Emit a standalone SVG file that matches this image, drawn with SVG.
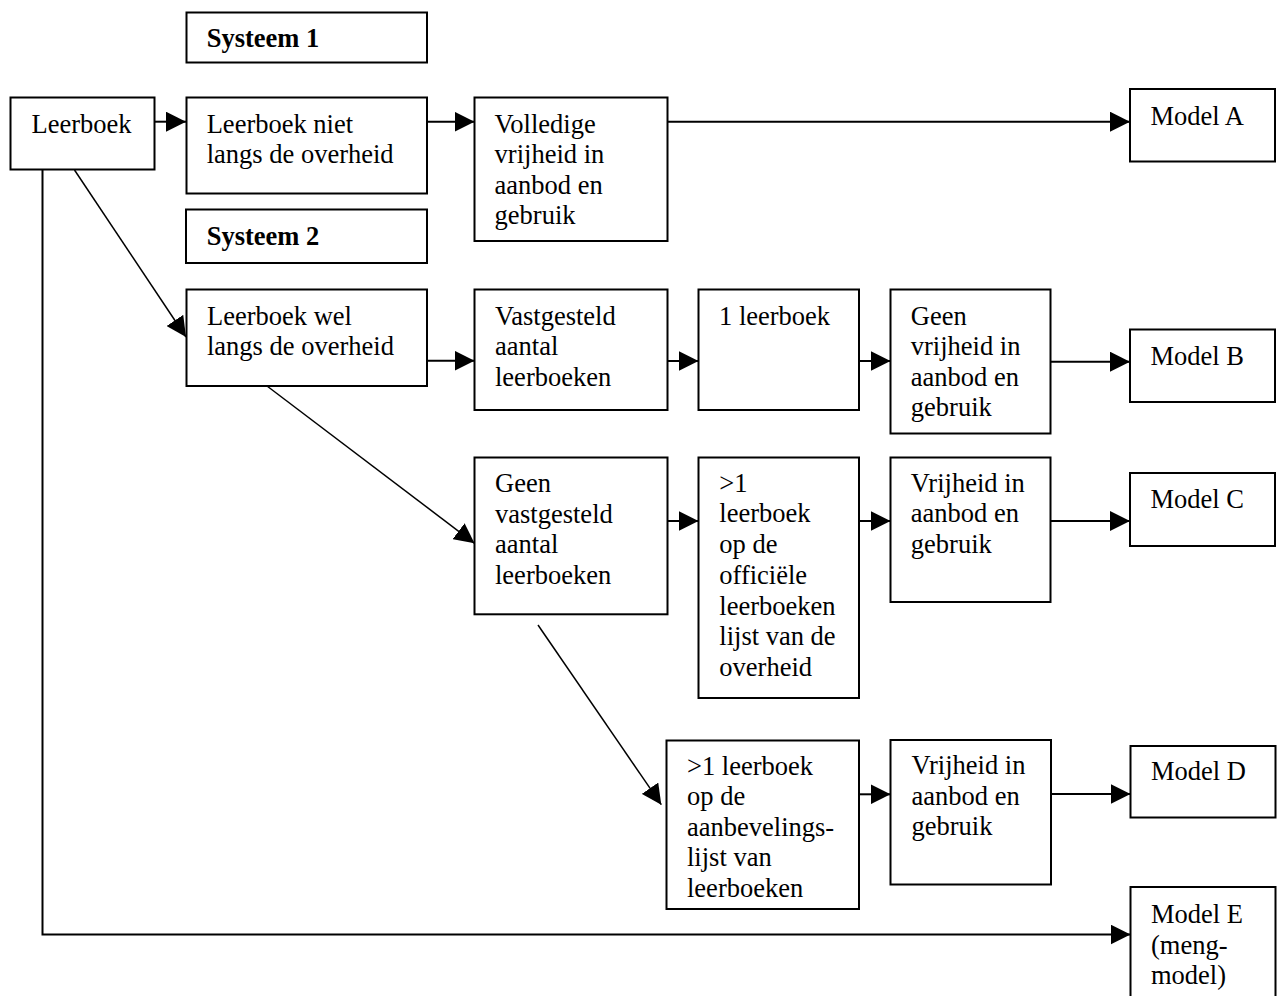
<svg xmlns="http://www.w3.org/2000/svg" width="1282" height="996" viewBox="0 0 1282 996">
<style>
  .box { fill: #ffffff; stroke: #000000; stroke-width: 2; }
  .t { font-family: "Liberation Serif", "Times New Roman", serif; font-size: 26.5px; fill: #000000; }
  .b { font-weight: bold; }
  .c { fill: none; stroke: #000000; stroke-width: 2; }
  .d { fill: none; stroke: #000000; stroke-width: 1.5; }
</style>
<defs>
  <marker id="ah" viewBox="0 0 20 20" refX="20" refY="10" markerWidth="20" markerHeight="20" markerUnits="userSpaceOnUse" orient="auto">
    <path d="M0,0 L20,10 L0,20 Z" fill="#000000"/>
  </marker>
</defs>
<rect width="1282" height="996" fill="#ffffff"/>

<g id="connectors">
  <line class="c" x1="155" y1="121.7" x2="186" y2="121.7" marker-end="url(#ah)"/>
  <line class="c" x1="427" y1="121.7" x2="474.5" y2="121.7" marker-end="url(#ah)"/>
  <line class="c" x1="667.5" y1="121.7" x2="1130" y2="121.7" marker-end="url(#ah)"/>
  <line class="d" x1="74.5" y1="170" x2="186" y2="337" marker-end="url(#ah)"/>
  <line class="c" x1="427" y1="360.7" x2="474.5" y2="360.7" marker-end="url(#ah)"/>
  <line class="c" x1="667.5" y1="361" x2="698.5" y2="361" marker-end="url(#ah)"/>
  <line class="c" x1="859" y1="361" x2="890.5" y2="361" marker-end="url(#ah)"/>
  <line class="c" x1="1050.5" y1="361.7" x2="1130" y2="361.7" marker-end="url(#ah)"/>
  <line class="d" x1="267" y1="386" x2="474.5" y2="543.3" marker-end="url(#ah)"/>
  <line class="c" x1="667.5" y1="521" x2="698.5" y2="521" marker-end="url(#ah)"/>
  <line class="c" x1="859" y1="521" x2="890.5" y2="521" marker-end="url(#ah)"/>
  <line class="c" x1="1050.5" y1="521" x2="1130" y2="521" marker-end="url(#ah)"/>
  <line class="d" x1="538" y1="625" x2="661.3" y2="804.7" marker-end="url(#ah)"/>
  <line class="c" x1="859" y1="794.3" x2="890.5" y2="794.3" marker-end="url(#ah)"/>
  <line class="c" x1="1051" y1="794" x2="1130.5" y2="794" marker-end="url(#ah)"/>
  <polyline class="c" points="42.5,164 42.5,934.5 1130.5,934.5" marker-end="url(#ah)"/>
</g>

<g id="systeem1">
  <rect class="box" x="186.5" y="12.5" width="240.5" height="50"/>
  <text class="t b" x="206.7" y="46.7">Systeem 1</text>
</g>
<g id="leerboek">
  <rect class="box" x="10.5" y="97.5" width="144" height="72"/>
  <text class="t" x="31.5" y="133.3">Leerboek</text>
</g>
<g id="niet">
  <rect class="box" x="186.5" y="97.5" width="240.5" height="96"/>
  <text class="t" x="206.7" y="132.7">Leerboek niet</text>
  <text class="t" x="206.7" y="163.2">langs de overheid</text>
</g>
<g id="volledige">
  <rect class="box" x="474.5" y="97.5" width="193" height="143.5"/>
  <text class="t" x="494.6" y="132.7">Volledige</text>
  <text class="t" x="494.6" y="163.2">vrijheid in</text>
  <text class="t" x="494.6" y="193.7">aanbod en</text>
  <text class="t" x="494.6" y="224.2">gebruik</text>
</g>
<g id="modelA">
  <rect class="box" x="1130" y="89" width="145" height="72.5"/>
  <text class="t" x="1150.4" y="125">Model A</text>
</g>
<g id="systeem2">
  <rect class="box" x="186" y="209.5" width="241" height="53.5"/>
  <text class="t b" x="206.7" y="245">Systeem 2</text>
</g>
<g id="wel">
  <rect class="box" x="186.5" y="289.5" width="240.5" height="96.5"/>
  <text class="t" x="207" y="324.5">Leerboek wel</text>
  <text class="t" x="207" y="355">langs de overheid</text>
</g>
<g id="vastgesteld">
  <rect class="box" x="474.5" y="289.5" width="193" height="120.5"/>
  <text class="t" x="495" y="324.8">Vastgesteld</text>
  <text class="t" x="495" y="355.3">aantal</text>
  <text class="t" x="495" y="385.8">leerboeken</text>
</g>
<g id="een">
  <rect class="box" x="698.5" y="289.5" width="160.5" height="120.5"/>
  <text class="t" x="719" y="324.5">1 leerboek</text>
</g>
<g id="geenvrij">
  <rect class="box" x="890.5" y="289.5" width="160" height="144"/>
  <text class="t" x="910.8" y="324.5">Geen</text>
  <text class="t" x="910.8" y="355">vrijheid in</text>
  <text class="t" x="910.8" y="385.5">aanbod en</text>
  <text class="t" x="910.8" y="416">gebruik</text>
</g>
<g id="modelB">
  <rect class="box" x="1130" y="329.5" width="145" height="72.5"/>
  <text class="t" x="1150.4" y="364.5">Model B</text>
</g>
<g id="geenvast">
  <rect class="box" x="474.5" y="457.5" width="193" height="156.8"/>
  <text class="t" x="495" y="492">Geen</text>
  <text class="t" x="495" y="522.5">vastgesteld</text>
  <text class="t" x="495" y="553">aantal</text>
  <text class="t" x="495" y="583.5">leerboeken</text>
</g>
<g id="officieel">
  <rect class="box" x="698.5" y="457.5" width="160.5" height="240.5"/>
  <text class="t" x="719.3" y="491.7">&gt;1</text>
  <text class="t" x="719.3" y="522.4">leerboek</text>
  <text class="t" x="719.3" y="553.1">op de</text>
  <text class="t" x="719.3" y="583.8">officiële</text>
  <text class="t" x="719.3" y="614.5">leerboeken</text>
  <text class="t" x="719.3" y="645.2">lijst van de</text>
  <text class="t" x="719.3" y="675.9">overheid</text>
</g>
<g id="vrijC">
  <rect class="box" x="890.5" y="457.5" width="160" height="144.5"/>
  <text class="t" x="910.8" y="491.7">Vrijheid in</text>
  <text class="t" x="910.8" y="522.2">aanbod en</text>
  <text class="t" x="910.8" y="552.7">gebruik</text>
</g>
<g id="modelC">
  <rect class="box" x="1130" y="473" width="145" height="73"/>
  <text class="t" x="1150.4" y="508.3">Model C</text>
</g>
<g id="aanbeveling">
  <rect class="box" x="666.5" y="740.5" width="192.5" height="168.5"/>
  <text class="t" x="687" y="774.5">&gt;1 leerboek</text>
  <text class="t" x="687" y="805">op de</text>
  <text class="t" x="687" y="835.5">aanbevelings-</text>
  <text class="t" x="687" y="866">lijst van</text>
  <text class="t" x="687" y="896.5">leerboeken</text>
</g>
<g id="vrijD">
  <rect class="box" x="890.5" y="740" width="160.5" height="144.5"/>
  <text class="t" x="911.5" y="774.3">Vrijheid in</text>
  <text class="t" x="911.5" y="804.8">aanbod en</text>
  <text class="t" x="911.5" y="835.3">gebruik</text>
</g>
<g id="modelD">
  <rect class="box" x="1130.5" y="746" width="145" height="71.5"/>
  <text class="t" x="1151" y="780">Model D</text>
</g>
<g id="modelE">
  <rect class="box" x="1130.5" y="887" width="145" height="115"/>
  <text class="t" x="1151" y="923">Model E</text>
  <text class="t" x="1151" y="953.7">(meng-</text>
  <text class="t" x="1151" y="984.3">model)</text>
</g>
</svg>
